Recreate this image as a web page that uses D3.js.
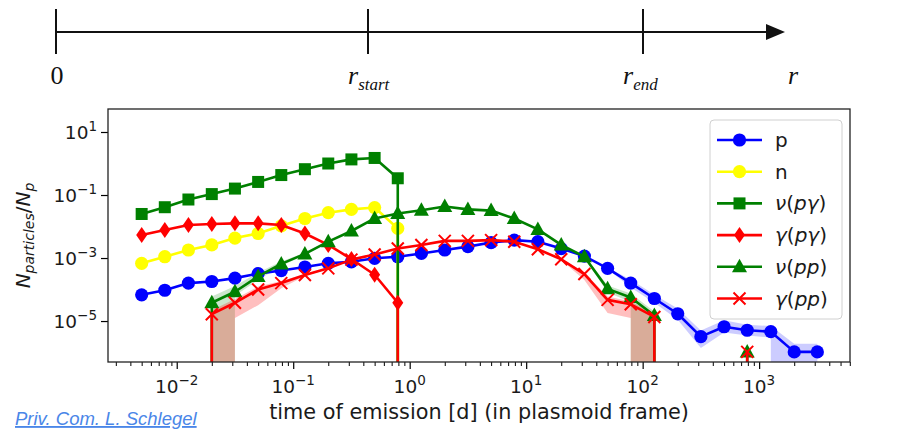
<!DOCTYPE html>
<html><head><meta charset="utf-8">
<script src="https://cdn.jsdelivr.net/npm/d3@7"></script>
<style>body{margin:0;background:#fff}svg{display:block}</style>
</head><body><svg id="c" width="904" height="434"></svg>
<script>
// ---------- DATA ----------
const times = [0.005, 0.0079, 0.0126, 0.02, 0.0316, 0.05, 0.079, 0.126, 0.2, 0.316,
               0.5, 0.79, 1.26, 2.0, 3.16, 5.0, 7.9, 12.6, 20, 31.6,
               50, 79, 126, 200, 316, 500, 790, 1260, 2000, 3160];

const pVals = [6.8e-5, 9.5e-5, 1.6e-4, 1.8e-4, 2.3e-4, 3.2e-4, 4.0e-4, 5.2e-4, 6.8e-4, 7.6e-4,
               9.8e-4, 1.1e-3, 1.4e-3, 1.8e-3, 2.3e-3, 3.1e-3, 3.7e-3, 3.3e-3, 2.0e-3, 1.15e-3,
               4.7e-4, 1.6e-4, 5.2e-5, 1.7e-5, 3.2e-6, 6.6e-6, 5.1e-6, 4.6e-6, 1.05e-6, 1.05e-6];
const nVals = [6.8e-4, 1.1e-3, 1.8e-3, 2.6e-3, 4.3e-3, 6.0e-3, 1.05e-2, 1.8e-2, 2.75e-2, 3.5e-2,
               4.0e-2, 8.7e-3, 0, 0, 0, 0, 0, 0, 0, 0,
               0, 0, 0, 0, 0, 0, 0, 0, 0, 0];
const nuPgVals = [2.5e-2, 4.1e-2, 7.2e-2, 0.107, 0.16, 0.26, 0.43, 0.66, 1.0, 1.35,
                  1.5, 0.34, 0, 0, 0, 0, 0, 0, 0, 0,
                  0, 0, 0, 0, 0, 0, 0, 0, 0, 0];
const gaPgVals = [5.4e-3, 7.8e-3, 1.12e-2, 1.2e-2, 1.26e-2, 1.26e-2, 1.12e-2, 6.0e-3, 2.6e-3, 9.3e-4,
                  2.95e-4, 3.8e-5, 0, 0, 0, 0, 0, 0, 0, 0,
                  0, 0, 0, 0, 0, 0, 0, 0, 0, 0];
const nuPpVals = [0, 0, 0, 3.8e-5, 8.5e-5, 2.6e-4, 6.5e-4, 1.35e-3, 3.3e-3, 7.2e-3,
                  1.8e-2, 2.6e-2, 3.3e-2, 4.3e-2, 3.5e-2, 3.2e-2, 1.8e-2, 8.1e-3, 2.6e-3, 1.1e-3,
                  1.05e-4, 5.6e-5, 1.5e-5, 0, 0, 0, 1.05e-6, 0, 0, 0];
const gaPpVals = [0, 0, 0, 1.65e-5, 3.8e-5, 1.0e-4, 1.6e-4, 2.9e-4, 4.7e-4, 8.9e-4,
                  1.3e-3, 2.0e-3, 2.6e-3, 3.5e-3, 3.5e-3, 3.7e-3, 3.3e-3, 1.9e-3, 9.1e-4, 3.1e-4,
                  4.7e-5, 3.4e-5, 1.35e-5, 0, 0, 0, 1.05e-6, 0, 0, 0];

// uncertainty bands (null = no band at that time, 0 = band reaches zero)
const pLow = [null, null, null, null, null, null, null, null, null, null,
              null, null, null, null, null, null, null, null, null, null,
              4.5e-4, 1.15e-4, 3.8e-5, 1.1e-5, 1.4e-6, 4.3e-6, 3.5e-6, 3.0e-6, 0, 0];
const pHigh = [null, null, null, null, null, null, null, null, null, null,
               null, null, null, null, null, null, null, null, null, null,
               4.9e-4, 2.1e-4, 6.8e-5, 2.5e-5, 5.0e-6, 1.05e-5, 7.6e-6, 6.9e-6, 1.9e-6, 1.9e-6];
const nuPpLow = [null, null, null, 0, 6.3e-5, 2.0e-4, 5.6e-4, 1.25e-3, 3.1e-3, 6.9e-3,
                 1.75e-2, 2.55e-2, 3.25e-2, 4.2e-2, 3.45e-2, 3.15e-2, 1.75e-2, 7.8e-3, 2.45e-3, 1.0e-3,
                 8.0e-5, 4.0e-5, 0, null, null, null, null, null, null, null];
const nuPpHigh = [null, null, null, 6.0e-5, 1.3e-4, 3.5e-4, 7.8e-4, 1.48e-3, 3.5e-3, 7.5e-3,
                  1.85e-2, 2.65e-2, 3.35e-2, 4.4e-2, 3.55e-2, 3.25e-2, 1.85e-2, 8.4e-3, 2.75e-3, 1.2e-3,
                  1.35e-4, 7.5e-5, 2.0e-5, null, null, null, null, null, null, null];
const gaPpLow = [null, null, null, 0, 1.25e-5, 3.2e-5, 1.1e-4, 2.7e-4, 4.5e-4, 8.6e-4,
                 1.26e-3, 1.95e-3, 2.55e-3, 3.4e-3, 3.4e-3, 3.6e-3, 3.2e-3, 1.8e-3, 8.6e-4, 2.0e-4,
                 1.8e-5, 1.25e-5, 0, null, null, null, null, null, null, null];
const gaPpHigh = [null, null, null, 2.2e-5, 5.0e-5, 1.25e-4, 1.85e-4, 3.1e-4, 4.9e-4, 9.2e-4,
                  1.34e-3, 2.05e-3, 2.65e-3, 3.6e-3, 3.6e-3, 3.8e-3, 3.4e-3, 2.0e-3, 9.6e-4, 3.5e-4,
                  6.0e-5, 4.2e-5, 1.7e-5, null, null, null, null, null, null, null];

const xMajorTicks = [1e-2, 1e-1, 1e0, 1e1, 1e2, 1e3];
const xTickExps = ["\u22122", "\u22121", "0", "1", "2", "3"];
const yMajorTicks = [1e1, 1e-1, 1e-3, 1e-5];
const yTickExps = ["1", "\u22121", "\u22123", "\u22125"];

const diagramLabels = [["0", ""], ["r", "start"], ["r", "end"]];

// ---------- LAYOUT ----------
const svg = d3.select("#c");
const X0 = 108, X1 = 850, Y0 = 109, Y1 = 362;
const x = d3.scaleLog().domain([Math.pow(10, -2.59), Math.pow(10, 3.78)]).range([X0, X1]);
const y = d3.scaleLog().domain([Math.pow(10, -6.3), Math.pow(10, 1.73)]).range([Y1, Y0]);
const FLOOR = 1e5;
const yv = v => v > 0 ? y(v) : FLOOR;
const SANS = "'DejaVu Sans', sans-serif";
const SERIF = "'Liberation Serif', 'Times New Roman', serif";

// ---------- TOP DIAGRAM ----------
const dPos = [56, 368, 643];
const gd = svg.append("g");
gd.append("line").attr("x1", 56).attr("x2", 770).attr("y1", 32).attr("y2", 32)
  .attr("stroke", "#111").attr("stroke-width", 2);
gd.append("path").attr("d", "M766,24 L785,32 L766,40 Z").attr("fill", "#111");
dPos.forEach((px, i) => {
  gd.append("line").attr("x1", px).attr("x2", px).attr("y1", 9).attr("y2", 54)
    .attr("stroke", "#111").attr("stroke-width", 2);
  const lab = diagramLabels[i];
  if (lab[1] === "") {
    gd.append("text").attr("x", px + 1).attr("y", 84).attr("text-anchor", "middle")
      .attr("font-family", SERIF).attr("font-size", 26).attr("fill", "#111").text(lab[0]);
  } else {
    const t = gd.append("text").attr("x", i === 1 ? 348 : 623).attr("y", 84)
      .attr("font-family", SERIF).attr("font-style", "italic").attr("font-size", 26).attr("fill", "#111");
    t.append("tspan").text(lab[0]);
    t.append("tspan").attr("dy", 6).attr("font-size", 17).text(lab[1]);
  }
});
gd.append("text").attr("x", 788).attr("y", 84).attr("font-family", SERIF)
  .attr("font-style", "italic").attr("font-size", 26).attr("fill", "#111").text("r");

// ---------- PLOT ----------
svg.append("defs").append("clipPath").attr("id", "clip")
  .append("rect").attr("x", X0).attr("y", Y0).attr("width", X1 - X0).attr("height", Y1 - Y0);
const plot = svg.append("g").attr("clip-path", "url(#clip)");

function band(low, high, color, op) {
  const d = times.map((t, i) => ({t, lo: low[i], hi: high[i]}));
  const area = d3.area().defined(e => e.lo != null && e.hi != null)
    .x(e => x(e.t)).y0(e => yv(e.lo)).y1(e => yv(e.hi));
  plot.append("path").attr("d", area(d)).attr("fill", color).attr("fill-opacity", op).attr("stroke", "none");
}
band(pLow, pHigh, "#0000ff", 0.2);
band(nuPpLow, nuPpHigh, "#008000", 0.2);
band(gaPpLow, gaPpHigh, "#ff0000", 0.25);

const series = [
  {name: "p", vals: pVals, color: "#0000ff", marker: "circle"},
  {name: "n", vals: nVals, color: "#ffff00", marker: "circle"},
  {name: "nupg", vals: nuPgVals, color: "#008000", marker: "square"},
  {name: "gapg", vals: gaPgVals, color: "#ff0000", marker: "diamond"},
  {name: "nupp", vals: nuPpVals, color: "#008000", marker: "triangle"},
  {name: "gapp", vals: gaPpVals, color: "#ff0000", marker: "x"}
];

function drawMarker(g, type, cx, cy, color) {
  if (type === "circle") {
    g.append("circle").attr("cx", cx).attr("cy", cy).attr("r", 6.6).attr("fill", color);
  } else if (type === "square") {
    g.append("rect").attr("x", cx - 6).attr("y", cy - 6).attr("width", 12).attr("height", 12).attr("fill", color);
  } else if (type === "diamond") {
    g.append("path").attr("d", `M${cx},${cy - 8} L${cx + 5.5},${cy} L${cx},${cy + 8} L${cx - 5.5},${cy} Z`).attr("fill", color);
  } else if (type === "triangle") {
    g.append("path").attr("d", `M${cx},${cy - 8} L${cx + 7.5},${cy + 5.5} L${cx - 7.5},${cy + 5.5} Z`).attr("fill", color);
  } else if (type === "x") {
    g.append("path").attr("d", `M${cx - 6},${cy - 6} L${cx + 6},${cy + 6} M${cx - 6},${cy + 6} L${cx + 6},${cy - 6}`)
      .attr("stroke", color).attr("stroke-width", 2).attr("fill", "none");
  }
}

const line = d3.line().x(d => x(d.t)).y(d => yv(d.v));
series.forEach(s => {
  const d = times.map((t, i) => ({t, v: s.vals[i]}));
  const g = plot.append("g");
  g.append("path").attr("d", line(d)).attr("fill", "none").attr("stroke", s.color)
    .attr("stroke-width", 2.6).attr("stroke-linejoin", "round");
  d.filter(e => e.v > 0).forEach(e => drawMarker(g, s.marker, x(e.t), y(e.v), s.color));
});

// ---------- AXES ----------
const minorX = [];
for (let e = -3; e <= 3; e++) for (let m = 2; m <= 9; m++) {
  const v = m * Math.pow(10, e);
  if (v > x.domain()[0] && v < x.domain()[1]) minorX.push(v);
}
const gx = svg.append("g").attr("transform", `translate(0,${Y1})`);
gx.call(d3.axisBottom(x).tickValues(xMajorTicks).tickSize(7).tickFormat(""));
gx.call(g => g.select(".domain").remove());
gx.selectAll(".tick line").attr("stroke", "#000").attr("stroke-width", 1.2);
const gxm = svg.append("g").attr("transform", `translate(0,${Y1})`);
gxm.call(d3.axisBottom(x).tickValues(minorX).tickSize(4).tickFormat(""));
gxm.call(g => g.select(".domain").remove());
gxm.selectAll(".tick line").attr("stroke", "#000").attr("stroke-width", 1);

xMajorTicks.forEach((v, i) => {
  const t = svg.append("text").attr("x", x(v)).attr("y", 393).attr("text-anchor", "middle")
    .attr("font-family", SANS).attr("font-size", 18.5).attr("fill", "#1a1a1a");
  t.append("tspan").text("10");
  t.append("tspan").attr("dy", -8).attr("font-size", 13.5).text(xTickExps[i]);
});

const gy = svg.append("g").attr("transform", `translate(${X0},0)`);
gy.call(d3.axisLeft(y).tickValues(yMajorTicks).tickSize(7).tickFormat(""));
gy.call(g => g.select(".domain").remove());
gy.selectAll(".tick line").attr("stroke", "#000").attr("stroke-width", 1.2);
yMajorTicks.forEach((v, i) => {
  const t = svg.append("text").attr("x", 97).attr("y", y(v) + 6.5).attr("text-anchor", "end")
    .attr("font-family", SANS).attr("font-size", 18.5).attr("fill", "#1a1a1a");
  t.append("tspan").text("10");
  t.append("tspan").attr("dy", -8).attr("font-size", 13.5).text(yTickExps[i]);
});

svg.append("rect").attr("x", X0).attr("y", Y0).attr("width", X1 - X0).attr("height", Y1 - Y0)
  .attr("fill", "none").attr("stroke", "#222").attr("stroke-width", 1.3);

// axis labels
svg.append("text").attr("x", (X0 + X1) / 2).attr("y", 419).attr("text-anchor", "middle")
  .attr("font-family", SANS).attr("font-size", 20.8).attr("fill", "#1a1a1a")
  .text("time of emission [d] (in plasmoid frame)");
const yl = svg.append("text").attr("transform", `translate(30,${(Y0 + Y1) / 2}) rotate(-90)`)
  .attr("text-anchor", "middle").attr("font-family", SANS).attr("font-size", 20).attr("fill", "#1a1a1a");
yl.append("tspan").attr("font-style", "italic").text("N");
yl.append("tspan").attr("font-style", "italic").attr("font-size", 14).attr("dy", 4).text("particles");
yl.append("tspan").attr("dy", -4).text("/");
yl.append("tspan").attr("font-style", "italic").text("N");
yl.append("tspan").attr("font-style", "italic").attr("font-size", 14).attr("dy", 4).text("p");

// ---------- LEGEND ----------
const legendItems = [
  {s: 0, parts: [["p", false]]},
  {s: 1, parts: [["n", false]]},
  {s: 2, parts: [["\u03bd", true], ["(", false], ["p\u03b3", true], [")", false]]},
  {s: 3, parts: [["\u03b3", true], ["(", false], ["p\u03b3", true], [")", false]]},
  {s: 4, parts: [["\u03bd", true], ["(", false], ["pp", true], [")", false]]},
  {s: 5, parts: [["\u03b3", true], ["(", false], ["pp", true], [")", false]]}
];
const lg = svg.append("g");
lg.append("rect").attr("x", 710).attr("y", 120).attr("width", 132).attr("height", 199).attr("rx", 4)
  .attr("fill", "#fff").attr("fill-opacity", 0.85).attr("stroke", "#d0d0d0").attr("stroke-width", 1);
legendItems.forEach((it, i) => {
  const s = series[it.s];
  const cy = 140 + i * 31.7;
  lg.append("line").attr("x1", 717).attr("x2", 762).attr("y1", cy).attr("y2", cy)
    .attr("stroke", s.color).attr("stroke-width", 2.6);
  drawMarker(lg, s.marker, 739.5, cy, s.color);
  const t = lg.append("text").attr("x", 775).attr("y", cy + 7).attr("font-family", SANS)
    .attr("font-size", 20).attr("fill", "#1a1a1a");
  it.parts.forEach(p => t.append("tspan").attr("font-style", p[1] ? "italic" : "normal").text(p[0]));
});

// ---------- CREDIT LINK ----------
svg.append("text").attr("x", 15).attr("y", 425)
  .attr("font-family", "'Liberation Sans', Arial, sans-serif").attr("font-style", "italic")
  .attr("font-size", 18.5).attr("fill", "#4a86e8").attr("text-decoration", "underline")
  .text("Priv. Com. L. Schlegel");
</script></body></html>
